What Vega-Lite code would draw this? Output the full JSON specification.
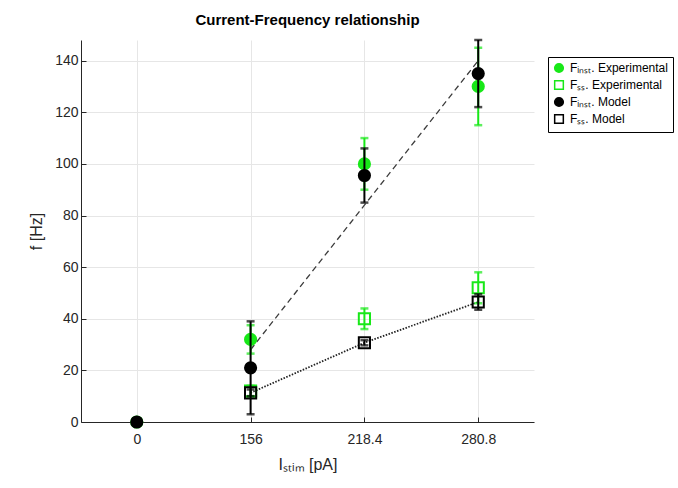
{
  "$schema": "https://vega.github.io/schema/vega-lite/v6.json",
  "width": 453,
  "height": 382,
  "autosize": {"type": "none"},
  "padding": {"left": 81, "top": 40, "right": 144, "bottom": 66},
  "background": "white",
  "title": {"text": "Current-Frequency relationship", "fontSize": 15, "fontWeight": "bold", "font": "Liberation Sans", "color": "black", "offset": 11},
  "config": {
    "view": {"stroke": null},
    "axis": {
      "domainColor": "#262626", "tickColor": "#262626", "labelColor": "#262626", "titleColor": "#262626",
      "labelFont": "Liberation Sans", "titleFont": "Liberation Sans", "labelFontSize": 14, "titleFontSize": 16,
      "titleFontWeight": "normal", "gridColor": "#e6e6e6", "gridWidth": 1, "tickSize": -5, "domainWidth": 1
    },
    "legend": {
      "strokeColor": "#000000", "fillColor": "white", "padding": 5, "labelFont": "Liberation Sans", "labelFontSize": 12, "labelColor": "#000000", "rowPadding": 1, "labelOffset": 5
    }
  },
  "datasets": {
    "pts": [
      {"I": "0", "series": "Fᵢₙₛₜ. Experimental", "source": "Experimental", "f": 0, "lo": 0, "hi": 0},
      {"I": "156", "series": "Fᵢₙₛₜ. Experimental", "source": "Experimental", "f": 32, "lo": 26.5, "hi": 37.5},
      {"I": "218.4", "series": "Fᵢₙₛₜ. Experimental", "source": "Experimental", "f": 100, "lo": 90, "hi": 110},
      {"I": "280.8", "series": "Fᵢₙₛₜ. Experimental", "source": "Experimental", "f": 130, "lo": 115, "hi": 145},
      {"I": "156", "series": "Fₛₛ. Experimental", "source": "Experimental", "f": 12, "lo": 10, "hi": 14},
      {"I": "218.4", "series": "Fₛₛ. Experimental", "source": "Experimental", "f": 40, "lo": 36, "hi": 44},
      {"I": "280.8", "series": "Fₛₛ. Experimental", "source": "Experimental", "f": 52, "lo": 46, "hi": 58},
      {"I": "0", "series": "Fᵢₙₛₜ. Model", "source": "Model", "f": 0, "lo": 0, "hi": 0},
      {"I": "156", "series": "Fᵢₙₛₜ. Model", "source": "Model", "f": 21, "lo": 3, "hi": 39},
      {"I": "218.4", "series": "Fᵢₙₛₜ. Model", "source": "Model", "f": 95.5, "lo": 85, "hi": 106},
      {"I": "280.8", "series": "Fᵢₙₛₜ. Model", "source": "Model", "f": 135, "lo": 122, "hi": 148},
      {"I": "156", "series": "Fₛₛ. Model", "source": "Model", "f": 11.3, "lo": 10, "hi": 12.6},
      {"I": "218.4", "series": "Fₛₛ. Model", "source": "Model", "f": 30.7, "lo": 29.7, "hi": 31.7},
      {"I": "280.8", "series": "Fₛₛ. Model", "source": "Model", "f": 46.5, "lo": 43.5, "hi": 49.5}
    ],
    "fit": [
      {"I": "156", "f": 28},
      {"I": "218.4", "f": 84},
      {"I": "280.8", "f": 140}
    ]
  },
  "encoding": {
    "x": {"field": "I", "type": "ordinal", "scale": {"type": "point", "domain": ["0", "156", "218.4", "280.8"], "padding": 0.49},
      "axis": {"title": "Iₛₜᵢₘ [pA]", "labelAngle": 0, "grid": true, "labelPadding": 15, "titlePadding": 10}},
    "y": {"field": "f", "type": "quantitative", "scale": {"domain": [0, 148], "nice": false, "zero": true},
      "axis": {"title": "f [Hz]", "values": [0, 20, 40, 60, 80, 100, 120, 140], "grid": true, "labelPadding": 8, "titlePadding": 10}}
  },
  "layer": [
    {
      "data": {"name": "fit"},
      "mark": {"type": "line", "color": "#3c3c3c", "strokeDash": [6, 4], "strokeWidth": 1.3}
    },
    {
      "data": {"name": "pts"},
      "transform": [{"filter": "datum.series == 'Fₛₛ. Model'"}],
      "mark": {"type": "line", "color": "#222222", "strokeDash": [1.5, 1.5], "strokeWidth": 1.8}
    },
    {
      "data": {"name": "pts"},
      "transform": [{"filter": "datum.source == 'Experimental' && datum.I != '0'"}],
      "mark": {"type": "rule", "color": "#18e818", "strokeWidth": 2},
      "encoding": {"y": {"field": "lo", "type": "quantitative"}, "y2": {"field": "hi"}}
    },
    {
      "data": {"name": "pts"},
      "transform": [{"filter": "datum.source == 'Experimental' && datum.I != '0'"}, {"fold": ["lo", "hi"], "as": ["end", "ev"]}],
      "mark": {"type": "tick", "color": "#18e818", "orient": "horizontal", "size": 8, "thickness": 2.5},
      "encoding": {"y": {"field": "ev", "type": "quantitative"}}
    },
    {
      "data": {"name": "pts"},
      "transform": [{"filter": "datum.source == 'Experimental'"}],
      "mark": {"type": "point", "size": 125, "strokeWidth": 2, "opacity": 1},
      "encoding": {
        "shape": {"field": "series", "type": "nominal", "scale": {"domain": ["Fᵢₙₛₜ. Experimental", "Fₛₛ. Experimental", "Fᵢₙₛₜ. Model", "Fₛₛ. Model"], "range": ["circle", "square", "circle", "square"]}, "legend": {"title": null, "orient": "none", "legendX": 467, "legendY": 17, "symbolSize": 75}},
        "stroke": {"field": "series", "type": "nominal", "scale": {"domain": ["Fᵢₙₛₜ. Experimental", "Fₛₛ. Experimental", "Fᵢₙₛₜ. Model", "Fₛₛ. Model"], "range": ["#18e818", "#18e818", "#000000", "#000000"]}, "legend": {"title": null, "orient": "none", "legendX": 467, "legendY": 17, "symbolSize": 75}},
        "fill": {"field": "series", "type": "nominal", "scale": {"domain": ["Fᵢₙₛₜ. Experimental", "Fₛₛ. Experimental", "Fᵢₙₛₜ. Model", "Fₛₛ. Model"], "range": ["#18e818", "rgba(255,255,255,0)", "#000000", "rgba(255,255,255,0)"]}, "legend": {"title": null, "orient": "none", "legendX": 467, "legendY": 17, "symbolSize": 75}}
      }
    },
    {
      "data": {"name": "pts"},
      "transform": [{"filter": "datum.source == 'Model' && datum.I != '0'"}],
      "mark": {"type": "rule", "color": "#000000", "strokeWidth": 2},
      "encoding": {"y": {"field": "lo", "type": "quantitative"}, "y2": {"field": "hi"}}
    },
    {
      "data": {"name": "pts"},
      "transform": [{"filter": "datum.source == 'Model' && datum.I != '0'"}, {"fold": ["lo", "hi"], "as": ["end", "ev"]}],
      "mark": {"type": "tick", "color": "#000000", "orient": "horizontal", "size": 8, "thickness": 2.5},
      "encoding": {"y": {"field": "ev", "type": "quantitative"}}
    },
    {
      "data": {"name": "pts"},
      "transform": [{"filter": "datum.source == 'Model'"}],
      "mark": {"type": "point", "size": 125, "strokeWidth": 2, "opacity": 1},
      "encoding": {
        "shape": {"field": "series", "type": "nominal"},
        "stroke": {"field": "series", "type": "nominal"},
        "fill": {"field": "series", "type": "nominal"}
      }
    }
  ]
}
